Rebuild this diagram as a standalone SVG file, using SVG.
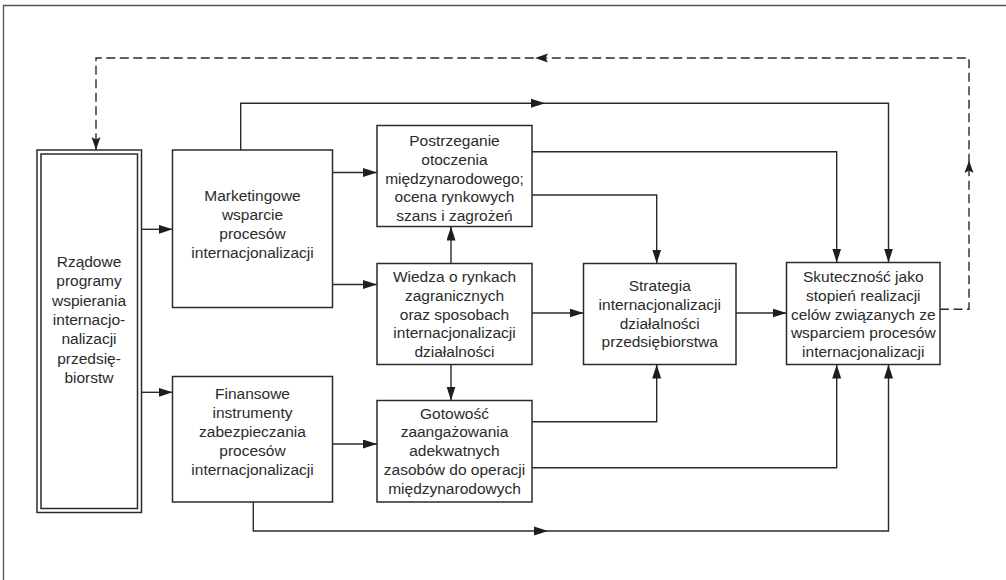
<svg xmlns="http://www.w3.org/2000/svg" width="1006" height="580" viewBox="0 0 1006 580">
<style>
.box{fill:#fff;stroke:#2b2b2b;stroke-width:1.5}
.ln{fill:none;stroke:#2b2b2b;stroke-width:1.4}
.dash{fill:none;stroke:#2b2b2b;stroke-width:1.4;stroke-dasharray:9 4.5}
.ah{fill:#1e1e1e;stroke:none}
text{font-family:"Liberation Sans",Arial,sans-serif;font-size:15.5px;fill:#2b2b2b;text-anchor:middle}
</style>
<defs>
<marker id="arr" markerUnits="userSpaceOnUse" markerWidth="15" markerHeight="10" refX="14" refY="4.5" orient="auto">
<path d="M0,0 L14,4.5 L0,9 z" fill="#1e1e1e"/>
</marker>
<marker id="darr" markerUnits="userSpaceOnUse" markerWidth="14" markerHeight="10" refX="13" refY="4.5" orient="auto">
<path d="M0,0 L13,4.5 L0,9 L2.5,4.5 z" fill="#1e1e1e"/>
</marker>
</defs>
<rect width="1006" height="580" fill="#fff"/>
<path d="M3.5,580 V5.5 H1006" fill="none" stroke="#555" stroke-width="1.3"/>

<g id="connectors">
<path class="ln" d="M141.5,229.3 H172.5" marker-end="url(#arr)"/>
<path class="ln" d="M141.5,392.3 H172.5" marker-end="url(#arr)"/>
<path class="ln" d="M332.5,172.5 H377" marker-end="url(#arr)"/>
<path class="ln" d="M332.5,284.5 H377" marker-end="url(#arr)"/>
<path class="ln" d="M240.7,150 V103.3 H888.5 V262.5" marker-end="url(#arr)"/>
<polygon class="ah" points="531,98.8 545,103.3 531,107.8"/>
<path class="ln" d="M532,151.7 H836.7 V262.5" marker-end="url(#arr)"/>
<path class="ln" d="M532,195 H656.7 V263.5" marker-end="url(#arr)"/>
<path class="ln" d="M451,263.5 V226.5" marker-end="url(#arr)"/>
<path class="ln" d="M451,364.5 V400.5" marker-end="url(#arr)"/>
<path class="ln" d="M532,313 H583.5" marker-end="url(#arr)"/>
<path class="ln" d="M736,313 H786.5" marker-end="url(#arr)"/>
<path class="ln" d="M332.5,444 H377" marker-end="url(#arr)"/>
<path class="ln" d="M532,421.7 H656.7 V364.5" marker-end="url(#arr)"/>
<path class="ln" d="M532,467.8 H836.7 V364.5" marker-end="url(#arr)"/>
<path class="ln" d="M253.3,502 V531 H888.5 V364.5" marker-end="url(#arr)"/>
<polygon class="ah" points="534,526.5 548,531 534,535.5"/>
<path class="dash" d="M940,309.3 H969 V58 H96 V150" marker-end="url(#darr)"/>
<path class="ah" d="M548,53.5 L535,58 L548,62.5 L545.5,58 z"/>
<path class="ah" d="M964.5,173 L969,160.5 L973.5,173 L969,170.5 z"/>
</g>

<g id="rzadowe">
<rect class="box" x="37" y="150" width="104.5" height="362.5"/>
<rect class="box" x="41" y="154" width="96.5" height="354.5"/>
<text x="89" y="267">Rządowe</text>
<text x="89" y="286.3">programy</text>
<text x="89" y="305.6">wspierania</text>
<text x="89" y="324.9">internacjo-</text>
<text x="89" y="344.2">nalizacji</text>
<text x="89" y="363.5">przedsię-</text>
<text x="89" y="382.8">biorstw</text>
</g>

<g id="marketing">
<rect class="box" x="172.5" y="150" width="160" height="157.5"/>
<text x="252.5" y="200.5">Marketingowe</text>
<text x="252.5" y="219.7">wsparcie</text>
<text x="252.5" y="238.9">procesów</text>
<text x="252.5" y="258.1">internacjonalizacji</text>
</g>

<g id="finansowe">
<rect class="box" x="172.5" y="376.5" width="160" height="125.5"/>
<text x="252.5" y="398.5">Finansowe</text>
<text x="252.5" y="417.7">instrumenty</text>
<text x="252.5" y="436.9">zabezpieczania</text>
<text x="252.5" y="456.1">procesów</text>
<text x="252.5" y="475.3">internacjonalizacji</text>
</g>

<g id="postrzeganie">
<rect class="box" x="377" y="125.5" width="155" height="101"/>
<text x="454.5" y="146">Postrzeganie</text>
<text x="454.5" y="164.75">otoczenia</text>
<text x="454.5" y="183.5">międzynarodowego;</text>
<text x="454.5" y="202.25">ocena rynkowych</text>
<text x="454.5" y="221">szans i zagrożeń</text>
</g>

<g id="wiedza">
<rect class="box" x="377" y="263.5" width="155" height="101"/>
<text x="454.5" y="282">Wiedza o rynkach</text>
<text x="454.5" y="300.75">zagranicznych</text>
<text x="454.5" y="319.5">oraz sposobach</text>
<text x="454.5" y="338.25">internacjonalizacji</text>
<text x="454.5" y="357">działalności</text>
</g>

<g id="gotowosc">
<rect class="box" x="377" y="400.5" width="155" height="101.5"/>
<text x="454.5" y="418.5">Gotowość</text>
<text x="454.5" y="437.3">zaangażowania</text>
<text x="454.5" y="456.1">adekwatnych</text>
<text x="454.5" y="474.9">zasobów do operacji</text>
<text x="454.5" y="493.7">międzynarodowych</text>
</g>

<g id="strategia">
<rect class="box" x="583.5" y="263.5" width="152.5" height="101"/>
<text x="659.75" y="291">Strategia</text>
<text x="659.75" y="309.75">internacjonalizacji</text>
<text x="659.75" y="328.5">działalności</text>
<text x="659.75" y="347.25">przedsiębiorstwa</text>
</g>

<g id="skutecznosc">
<rect class="box" x="786.5" y="262.5" width="153.5" height="102"/>
<text x="863.25" y="282">Skuteczność jako</text>
<text x="863.25" y="300.75">stopień realizacji</text>
<text x="863.25" y="319.5">celów związanych ze</text>
<text x="863.25" y="338.25">wsparciem procesów</text>
<text x="863.25" y="357">internacjonalizacji</text>
</g>
</svg>
